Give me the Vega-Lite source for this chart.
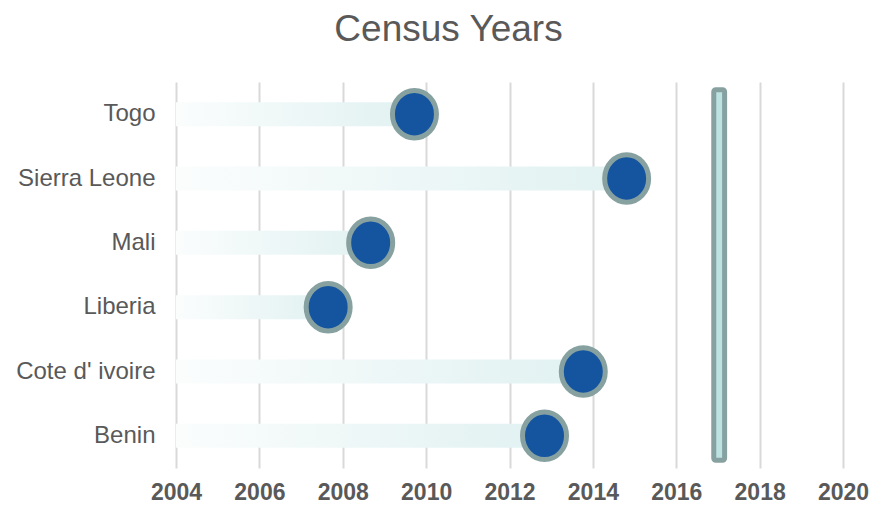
{
  "$schema": "https://vega.github.io/schema/vega-lite/v6.json",
  "autosize": {"type": "none"},
  "width": 667,
  "height": 386,
  "padding": {"left": 176, "top": 82, "right": 29, "bottom": 37},
  "background": "#ffffff",
  "title": {
    "text": "Census Years",
    "font": "Liberation Sans",
    "fontSize": 37,
    "fontWeight": "normal",
    "color": "#595959",
    "anchor": "middle",
    "dx": -61,
    "offset": 31
  },
  "datasets": {
    "census": [
      {"country": "Togo", "year": 2009.72},
      {"country": "Sierra Leone", "year": 2014.81},
      {"country": "Mali", "year": 2008.67},
      {"country": "Liberia", "year": 2007.65},
      {"country": "Cote d' ivoire", "year": 2013.77},
      {"country": "Benin", "year": 2012.84}
    ],
    "marker": [
      {"label": "2017", "start": 2016.9, "end": 2017.16, "first": "Togo", "last": "Benin"}
    ]
  },
  "config": {
    "view": {"stroke": null},
    "axis": {"labelFont": "Liberation Sans", "labelColor": "#595959"}
  },
  "layer": [
    {
      "data": {"name": "census"},
      "mark": {
        "type": "bar",
        "size": 24,
        "color": {
          "gradient": "linear",
          "x1": 0, "y1": 0, "x2": 1, "y2": 0,
          "stops": [
            {"offset": 0, "color": "#fbfdfd"},
            {"offset": 1, "color": "#e1f1f1"}
          ]
        }
      },
      "encoding": {
        "y": {
          "field": "country",
          "type": "nominal",
          "sort": null,
          "scale": {"paddingInner": 0, "paddingOuter": 0},
          "axis": {
            "title": null,
            "domain": false,
            "ticks": false,
            "labelFontSize": 24,
            "labelPadding": 21
          }
        },
        "x": {
          "field": "year",
          "type": "quantitative",
          "scale": {"domain": [2004, 2020], "zero": false, "nice": false},
          "axis": {
            "title": null,
            "values": [2004, 2006, 2008, 2010, 2012, 2014, 2016, 2018, 2020],
            "format": "d",
            "domain": false,
            "ticks": false,
            "grid": true,
            "gridColor": "#d9d9d9",
            "gridWidth": 2,
            "labelFlush": false,
            "labelOverlap": false,
            "labelFontSize": 23,
            "labelFontWeight": "bold",
            "labelPadding": 13
          }
        },
        "x2": {"datum": 2004}
      }
    },
    {
      "data": {"name": "marker"},
      "mark": {
        "type": "rect",
        "fill": "#bde2e2",
        "stroke": "#87a1a1",
        "strokeWidth": 5,
        "cornerRadius": 2
      },
      "encoding": {
        "x": {"field": "start", "type": "quantitative"},
        "x2": {"field": "end"},
        "y": {"field": "first", "type": "nominal", "sort": null, "bandPosition": 0.12},
        "y2": {"field": "last", "bandPosition": 0.88}
      }
    },
    {
      "data": {"name": "census"},
      "mark": {
        "type": "point",
        "filled": true,
        "shape": "M -1,0 A 1,1.08 0 1,0 1,0 A 1,1.08 0 1,0 -1,0 Z",
        "size": 1936,
        "fill": "#1555a0",
        "stroke": "#87a1a1",
        "strokeWidth": 5,
        "opacity": 1,
        "fillOpacity": 1,
        "strokeOpacity": 1
      },
      "encoding": {
        "y": {"field": "country", "type": "nominal", "sort": null},
        "x": {"field": "year", "type": "quantitative"}
      }
    }
  ]
}
